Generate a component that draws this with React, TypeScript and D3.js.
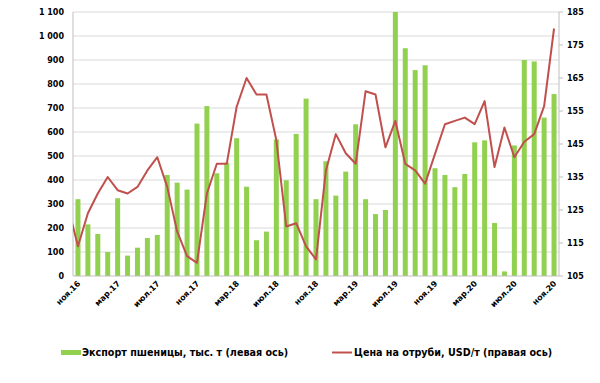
import React from "react";
import * as d3 from "d3";

const months = [
  "ноя.16","дек.16","янв.17","фев.17","мар.17","апр.17","май.17","июн.17","июл.17","авг.17","сен.17","окт.17",
  "ноя.17","дек.17","янв.18","фев.18","мар.18","апр.18","май.18","июн.18","июл.18","авг.18","сен.18","окт.18",
  "ноя.18","дек.18","янв.19","фев.19","мар.19","апр.19","май.19","июн.19","июл.19","авг.19","сен.19","окт.19",
  "ноя.19","дек.19","янв.20","фев.20","мар.20","апр.20","май.20","июн.20","июл.20","авг.20","сен.20","окт.20",
  "ноя.20",
];
const tickLabels = ["ноя.16","мар.17","июл.17","ноя.17","мар.18","июл.18","ноя.18","мар.19","июл.19","ноя.19","мар.20","июл.20","ноя.20"];

const exportWheat = [
  320, 215, 175, 100, 324, 85, 118, 158, 171, 421, 389, 360,
  635, 708, 428, 472, 574, 372, 149, 185, 569, 399, 592, 739,
  320, 478, 335, 435, 632, 320, 258, 275, 1100, 949, 858, 878,
  449, 421, 370, 425, 557, 565, 221, 19, 544, 900, 894, 660,
  758,
];
// price for the month before the first one (окт.16), drawn clipped at the left edge
const pricePrev = 126;
const branPrice = [
  114, 124, 130, 135, 131, 130, 132, 137, 141, 132, 118.5, 111,
  109, 130, 139, 139, 156.3, 165, 160, 160, 146.2, 120, 121, 114,
  110, 137, 148, 142.2, 139, 161, 160, 144, 152, 139, 137, 133,
  142, 151, 152, 153, 151, 158, 138, 150, 141, 145.7, 148, 156.5,
  180,
];

const leftTicks = d3.range(0, 1101, 100);
const rightTicks = d3.range(105, 186, 10);

const fmt = (v: number) => d3.format(",")(v).replace(/,/g, " ");

export default function App() {
  const W = 600, H = 383;
  const left = 73, right = 559, top = 12, bottom = 276;
  const x = d3.scaleBand<string>().domain(months).range([left, right]).paddingInner(0.5).paddingOuter(0.25);
  const step = x.step();
  const cx = (i: number) => left + step * (i + 0.5);
  const yL = d3.scaleLinear().domain([0, 1100]).range([bottom, top]);
  const yR = d3.scaleLinear().domain([105, 185]).range([bottom, top]);
  const barW = 5;

  const pts: [number, number][] = [[cx(-1), yR(pricePrev)], ...branPrice.map((v, i) => [cx(i), yR(v)] as [number, number])];
  const line = d3.line()(pts) || "";

  const font = "'DejaVu Sans', Verdana, sans-serif";

  return (
    <svg width={W} height={H} style={{ position: "absolute", left: 0, top: 0, background: "#fff" }} fontFamily={font}>
      <defs>
        <clipPath id="plot">
          <rect x={left} y={top - 2} width={right - left} height={bottom - top + 4} />
        </clipPath>
      </defs>
      {leftTicks.filter((t) => t > 0).map((t) => (
        <line key={t} x1={left} x2={right} y1={yL(t)} y2={yL(t)} stroke="#D9D9D9" strokeWidth={1} />
      ))}
      {exportWheat.map((v, i) => (
        <rect key={i} x={cx(i) - barW / 2} y={yL(v)} width={barW} height={bottom - yL(v)} fill="#92D050" />
      ))}
      <line x1={left} x2={left} y1={top} y2={bottom} stroke="#BFBFBF" />
      <line x1={right} x2={right} y1={top} y2={bottom} stroke="#BFBFBF" />
      <line x1={left} x2={right} y1={bottom} y2={bottom} stroke="#BFBFBF" />
      {rightTicks.map((t) => (
        <line key={t} x1={right} x2={right + 4} y1={yR(t)} y2={yR(t)} stroke="#BFBFBF" />
      ))}
      <path d={line} fill="none" stroke="#C0504D" strokeWidth={2} clipPath="url(#plot)" strokeLinejoin="round" />
      {leftTicks.map((t) => (
        <text key={t} x={64} y={yL(t)} dy="0.35em" textAnchor="end" fontSize={8} fontWeight="bold" fill="#000">
          {fmt(t)}
        </text>
      ))}
      {rightTicks.map((t) => (
        <text key={t} x={567} y={yR(t)} dy="0.35em" textAnchor="start" fontSize={8} fontWeight="bold" fill="#000">
          {t}
        </text>
      ))}
      {tickLabels.map((lab) => {
        const i = months.indexOf(lab);
        const tx = cx(i) + 3;
        const ty = bottom + 8;
        return (
          <g key={lab} style={{ transform: `translate(${tx}px, ${ty}px) rotate(-45deg)` }}>
            <text x={0} y={0} textAnchor="end" fontSize={8} fontWeight="bold" fill="#000">
              {lab}
            </text>
          </g>
        );
      })}
      <rect x={61} y={350} width={20} height={5} fill="#92D050" />
      <text x={82} y={356} fontSize={9.6} fontWeight="bold" fill="#000">Экспорт пшеницы, тыс. т (левая ось)</text>
      <line x1={332} x2={352} y1={352.5} y2={352.5} stroke="#C0504D" strokeWidth={2} />
      <text x={354} y={356} fontSize={9.6} fontWeight="bold" fill="#000">Цена на отруби, USD/т (правая ось)</text>
    </svg>
  );
}
